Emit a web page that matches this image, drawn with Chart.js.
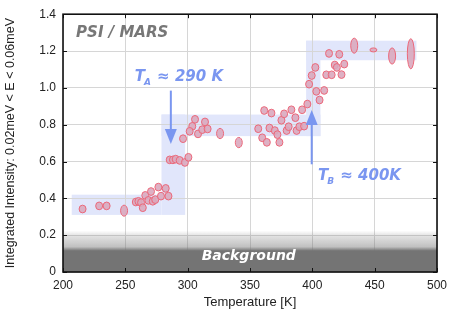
<!DOCTYPE html>
<html>
<head>
<meta charset="utf-8">
<script src="https://cdn.jsdelivr.net/npm/chart.js@4.4.1/dist/chart.umd.min.js"></script>
<style>
    html, body { margin: 0; padding: 0; background: #fff; }
</style>
</head>
<body>
<canvas id="intensityChart" width="458" height="312"></canvas>
<script>
// measured points (temperature in K, integrated intensity)
const temperature = [
    215.7, 229, 235, 249, 258.4, 260.5, 262.6, 264, 266, 268.5,
    270.6, 272, 274, 276.5, 278.6, 282.4, 284.6, 285.6, 288.2, 290.4,
    293.6, 297.8, 300.6, 296.3, 305.9, 303.7, 301.6, 308.3, 311.7, 313.9,
    316, 326, 341, 356.6, 359.8, 361.4, 363.5, 365.6, 367.2, 369.9,
    372, 373.6, 375.2, 377.4, 379.4, 381, 383.2, 386.4, 387.4, 389.6,
    391.8, 393.4, 396, 397.4, 399.5, 402.4, 403.2, 405.8, 409.5, 411.2,
    415.5, 413.4, 418, 419.7, 421.6, 423.4, 425.6, 433.6, 449, 464, 479
];
const intensity = [
    0.342, 0.359, 0.359, 0.333, 0.380, 0.384, 0.377, 0.349, 0.416, 0.389,
    0.437, 0.384, 0.393, 0.461, 0.412, 0.454, 0.412, 0.609, 0.609, 0.613,
    0.606, 0.595, 0.623, 0.724, 0.829, 0.791, 0.764, 0.750, 0.773, 0.815,
    0.777, 0.752, 0.703, 0.778, 0.729, 0.877, 0.704, 0.782, 0.863, 0.768,
    0.746, 0.704, 0.824, 0.859, 0.768, 0.789, 0.881, 0.838, 0.768, 0.789,
    0.881, 0.792, 0.912, 1.02, 1.067, 1.111, 0.981, 0.934, 0.986, 1.071,
    1.071, 1.187, 1.124, 1.111, 1.182, 1.072, 1.129, 1.229, 1.206, 1.173, 1.185
];
// vertical error (half height of each ellipse); horizontal error is common
const intensityErr = [
    0.021, 0.021, 0.021, 0.03, 0.021, 0.021, 0.021, 0.021, 0.021, 0.021,
    0.021, 0.021, 0.021, 0.021, 0.021, 0.021, 0.021, 0.021, 0.021, 0.021,
    0.021, 0.021, 0.021, 0.021, 0.021, 0.021, 0.021, 0.021, 0.021, 0.021,
    0.021, 0.028, 0.028, 0.021, 0.021, 0.021, 0.021, 0.021, 0.021, 0.021,
    0.021, 0.021, 0.021, 0.021, 0.021, 0.021, 0.021, 0.021, 0.021, 0.021,
    0.021, 0.021, 0.021, 0.021, 0.021, 0.021, 0.021, 0.021, 0.021, 0.021,
    0.021, 0.021, 0.021, 0.021, 0.021, 0.021, 0.021, 0.041, 0.011, 0.044, 0.082
];
const temperatureErr = 2.8;

// plateau guide boxes: [xFrom, xTo, yFrom, yTo]
const plateauBoxes = [
    [207, 279, 0.31, 0.42],
    [279, 298, 0.31, 0.855],
    [279, 406.5, 0.738, 0.855],
    [395, 406.5, 0.738, 1.256],
    [395, 483.5, 1.15, 1.256],
];

const xTicks = [200, 250, 300, 350, 400, 450, 500];
const yTicks = [0, 0.2, 0.4, 0.6, 0.8, 1, 1.2, 1.4];

const accent = "rgb(122,150,240)";
const labelFont = "bold italic 15px 'DejaVu Sans'";

function arrow(ctx, x, y0, y1) {
    const dir = y1 > y0 ? 1 : -1;
    ctx.strokeStyle = accent;
    ctx.fillStyle = accent;
    ctx.lineWidth = 2;
    ctx.beginPath();
    ctx.moveTo(x, y0);
    ctx.lineTo(x, y1 - dir * 12);
    ctx.stroke();
    ctx.beginPath();
    ctx.moveTo(x, y1);
    ctx.lineTo(x - 6, y1 - dir * 15);
    ctx.lineTo(x + 6, y1 - dir * 15);
    ctx.closePath();
    ctx.fill();
}

function subLabel(ctx, x, y, main, sub, rest) {
    ctx.font = labelFont;
    ctx.fillText(main, x, y);
    let w = ctx.measureText(main).width;
    ctx.font = "bold italic 9px 'DejaVu Sans'";
    ctx.fillText(sub, x + w - 1, y + 5);
    w += ctx.measureText(sub).width;
    ctx.font = labelFont;
    ctx.fillText(rest, x + w, y);
}

const decorations = {
    id: "decorations",
    beforeDraw(chart) {
        const { ctx, scales: { x, y } } = chart;
        ctx.save();
        ctx.fillStyle = "rgb(225,230,251)";
        plateauBoxes.forEach(([x0, x1, y0, y1]) => {
            const px = x.getPixelForValue(x0);
            const py = y.getPixelForValue(y1);
            ctx.fillRect(px, py, x.getPixelForValue(x1) - px, y.getPixelForValue(y0) - py);
        });
        ctx.restore();
    },
    beforeDatasetsDraw(chart) {
        const { ctx, chartArea: a, scales: { x, y } } = chart;
        ctx.save();
        const top = y.getPixelForValue(0.225);
        const grad = ctx.createLinearGradient(0, top, 0, y.getPixelForValue(0.115));
        grad.addColorStop(0, "rgba(116,116,116,0)");
        grad.addColorStop(0.25, "rgba(116,116,116,0.2)");
        grad.addColorStop(0.8, "rgba(116,116,116,0.45)");
        grad.addColorStop(1, "rgba(116,116,116,1)");
        ctx.fillStyle = grad;
        ctx.fillRect(a.left, top, a.right - a.left, a.bottom - top);
        ctx.fillStyle = "#fff";
        ctx.font = "bold italic 14px 'DejaVu Sans'";
        ctx.textAlign = "center";
        ctx.textBaseline = "middle";
        ctx.fillText("Background", x.getPixelForValue(349), y.getPixelForValue(0.085));
        ctx.restore();
    },
    afterDatasetsDraw(chart) {
        const { ctx, chartArea: a, scales: { x, y } } = chart;
        const meta = chart.getDatasetMeta(0);
        ctx.save();
        ctx.lineWidth = 1;
        ctx.fillStyle = "rgba(218,168,190,0.9)";
        ctx.strokeStyle = "rgb(236,104,122)";
        meta.data.forEach((pt, i) => {
            const rx = x.getPixelForValue(200 + temperatureErr) - x.getPixelForValue(200);
            const ry = y.getPixelForValue(0) - y.getPixelForValue(intensityErr[i]);
            ctx.beginPath();
            ctx.ellipse(pt.x, pt.y, rx, ry, 0, 0, Math.PI * 2);
            ctx.fill();
            ctx.stroke();
        });

        // annotations
        ctx.textBaseline = "middle";
        ctx.fillStyle = "#777";
        ctx.font = labelFont;
        ctx.fillText("PSI / MARS", x.getPixelForValue(210.5), y.getPixelForValue(1.295));
        ctx.fillStyle = accent;
        subLabel(ctx, x.getPixelForValue(257.5), y.getPixelForValue(1.056), "T", "A", " \u2248 290 K");
        subLabel(ctx, x.getPixelForValue(404.5), y.getPixelForValue(0.52), "T", "B", " \u2248 400K");
        arrow(ctx, x.getPixelForValue(286.5), y.getPixelForValue(0.985), y.getPixelForValue(0.695));
        arrow(ctx, x.getPixelForValue(399.5), y.getPixelForValue(0.585), y.getPixelForValue(0.88));

        // inward ticks and frame
        ctx.strokeStyle = "#111";
        ctx.lineWidth = 1;
        ctx.beginPath();
        xTicks.forEach((t) => {
            const px = Math.round(x.getPixelForValue(t)) + 0.5;
            ctx.moveTo(px, a.bottom);
            ctx.lineTo(px, a.bottom - 4);
            ctx.moveTo(px, a.top);
            ctx.lineTo(px, a.top + 4);
        });
        yTicks.forEach((t) => {
            const py = Math.round(y.getPixelForValue(t)) + 0.5;
            ctx.moveTo(a.left, py);
            ctx.lineTo(a.left + 4, py);
            ctx.moveTo(a.right, py);
            ctx.lineTo(a.right - 4, py);
        });
        ctx.stroke();
        ctx.lineWidth = 1.6;
        ctx.strokeRect(a.left, a.top, a.right - a.left, a.bottom - a.top);
        ctx.restore();
    },
};

const fontFamily = "'Liberation Sans', Arial, sans-serif";
const tickFont = { family: fontFamily, size: 12 };

new Chart(document.getElementById("intensityChart"), {
    type: "scatter",
    data: {
        datasets: [
            {
                data: temperature.map((t, i) => ({ x: t, y: intensity[i] })),
                pointRadius: 0,
                pointHoverRadius: 0,
            },
        ],
    },
    options: {
        responsive: false,
        animation: false,
        devicePixelRatio: 1,
        layout: { padding: { top: 7, right: 21, bottom: 2, left: 3 } },
        plugins: {
            legend: { display: false },
            tooltip: { enabled: false },
        },
        scales: {
            x: {
                type: "linear",
                min: 200,
                max: 500,
                afterBuildTicks: (s) => { s.ticks = xTicks.map((v) => ({ value: v })); },
                afterFit: (s) => { s.height = 38; },
                ticks: { font: tickFont, color: "#222", padding: 6, maxRotation: 0 },
                grid: { color: "#d6d6d6", drawTicks: false },
                border: { display: false },
                title: {
                    display: true,
                    text: "Temperature [K]",
                    font: { family: fontFamily, size: 13 },
                    color: "#222",
                    padding: { top: 1, bottom: 0 },
                },
            },
            y: {
                min: 0,
                max: 1.4,
                afterBuildTicks: (s) => { s.ticks = yTicks.map((v) => ({ value: v })); },
                afterFit: (s) => { s.width = 60; },
                ticks: { font: tickFont, color: "#222", padding: 7 },
                grid: { color: "#d6d6d6", drawTicks: false },
                border: { display: false },
                title: {
                    display: true,
                    text: "Integrated Intensity: 0.02meV < E < 0.06meV",
                    font: { family: fontFamily, size: 12.5 },
                    color: "#222",
                    padding: { top: 0, bottom: 0 },
                },
            },
        },
    },
    plugins: [decorations],
});
</script>
</body>
</html>
